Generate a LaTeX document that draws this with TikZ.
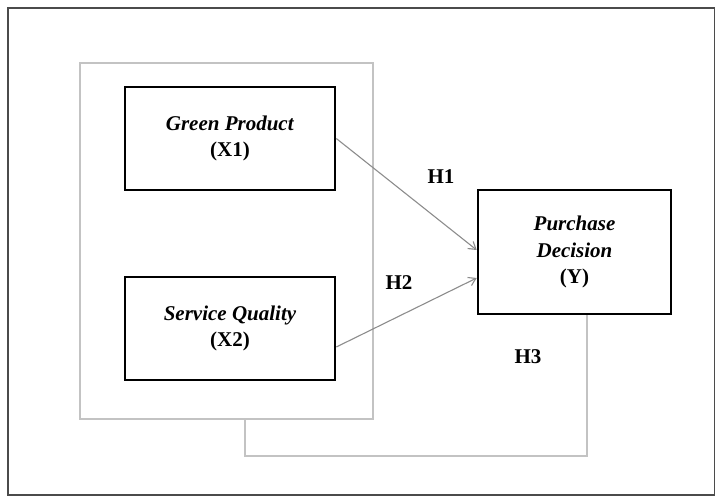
\documentclass[tikz,border=0pt]{standalone}
\usepackage{fontspec}
\setmainfont{Liberation Serif}
\usetikzlibrary{calc,arrows.meta}
\definecolor{framegray}{RGB}{75,75,75}
\definecolor{groupgray}{RGB}{195,195,195}
\definecolor{arrowgray}{RGB}{140,140,140}
\tikzset{
  varbox/.style={draw=black, line width=2.6pt, minimum width=210pt, minimum height=103pt,
                 align=center, inner sep=0pt, font=\fontsize{21}{26.5}\selectfont\bfseries},
  groupline/.style={draw=groupgray, line width=1.6pt},
  hyparrow/.style={draw=arrowgray, line width=1.1pt, -{Straight Barb[length=7pt,width=9pt]}},
  hyplabel/.style={inner sep=0pt, font=\fontsize{21}{26.5}\selectfont\bfseries}
}

\begin{document}
\begin{tikzpicture}[x=1pt, y=-1pt]
    \useasboundingbox (0,0) rectangle (715,497);
    %draw outer frame
    \draw[framegray, line width=2.4pt] (8,8) rectangle (715.5,495);

    % draw group of independent variables
    \node (group) [groupline, minimum width=293pt, minimum height=356pt, inner sep=0pt] at (226.5,241) {};

    % draw variable boxes
    \node (gp) [varbox] at (230,138.5) {\textit{Green Product}\\(X1)};
    \node (sq) [varbox] at (230,328.5) {\textit{Service Quality}\\(X2)};
    \node (pd) [varbox, minimum width=193pt, minimum height=124pt] at (574.5,252) {\textit{Purchase}\\\textit{Decision}\\(Y)};

    % draw hypotheses
    \draw[hyparrow] (gp.east) -- ([yshift=2pt]pd.west);
    \draw[hyparrow] ([yshift=-18.5pt]sq.east) -- ([yshift=-26pt]pd.west);
    \draw[groupline] ([xshift=18.5pt]group.south) -- ++(0,36) -| ([xshift=12.5pt]pd.south);
    \node (h1) [hyplabel] at (441,177) {H1};
    \node (h2) [hyplabel] at (399,283) {H2};
    \node (h3) [hyplabel] at (528,357) {H3};
  \end{tikzpicture}
\end{document}
